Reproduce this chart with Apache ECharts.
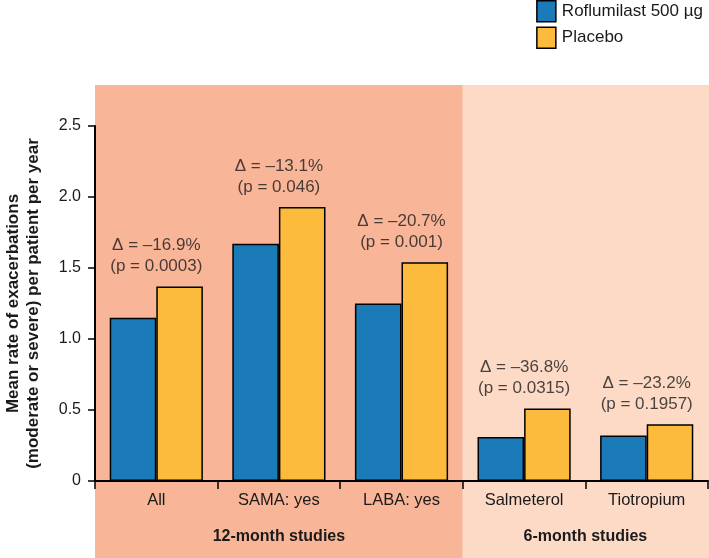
<!DOCTYPE html>
<html>
<head>
<meta charset="utf-8">
<script src="https://cdn.jsdelivr.net/npm/echarts@6/dist/echarts.min.js"></script>
<style>
html,body{margin:0;padding:0;background:#fff;}
#main{width:709px;height:558px;}
</style>
</head>
<body>
<div id="main"></div>
<script>
// ---- data ----
const categories = ['All', 'SAMA: yes', 'LABA: yes', 'Salmeterol', 'Tiotropium'];
const roflumilast = [1.15, 1.67, 1.25, 0.31, 0.32];
const placebo = [1.37, 1.93, 1.54, 0.51, 0.40];
const deltas = ['–16.9', '–13.1', '–20.7', '–36.8', '–23.2'];
const pValues = ['0.0003', '0.046', '0.001', '0.0315', '0.1957'];
const groupNames = ['12-month studies', '6-month studies'];
const groupStart = [0, 3];
const groupEnd = [2, 4];
const yTicks = [0, 0.5, 1.0, 1.5, 2.0, 2.5];

const FONT = '"Liberation Sans", Arial, Helvetica, sans-serif';
const TXT = '#1a1a1a';
const BLUE = '#1a7bb8';
const YELLOW = '#fdbb3d';
const shadeColors = ['#f8b598', '#fddac6'];

const chart = echarts.init(document.getElementById('main'), null, {renderer: 'canvas'});

const annot = categories.map((c, i) => ({
  value: [c, Math.max(roflumilast[i], placebo[i])],
  idx: i
}));

const option = {
  animation: false,
  textStyle: {fontFamily: FONT},
  grid: {left: 95, right: 1, top: 126, bottom: 77, containLabel: false, outerBoundsMode: 'none'},
  legend: {
    orient: 'vertical',
    right: 6,
    top: 0,
    padding: 0,
    itemWidth: 19,
    itemHeight: 21,
    itemGap: 4,
    icon: 'rect',
    textStyle: {fontFamily: FONT, fontSize: 17, color: TXT, padding: [0, 0, 0, 1]},
    data: [
      {name: 'Roflumilast 500 µg', itemStyle: {color: BLUE, borderColor: '#000', borderWidth: 1.5}},
      {name: 'Placebo', itemStyle: {color: YELLOW, borderColor: '#000', borderWidth: 1.5}}
    ]
  },
  xAxis: {
    type: 'category',
    data: categories,
    boundaryGap: true,
    axisLine: {lineStyle: {color: '#000', width: 2}},
    axisTick: {show: true, length: 8, lineStyle: {color: '#000', width: 1.5}},
    axisLabel: {fontFamily: FONT, fontSize: 16.5, color: TXT, margin: 11}
  },
  yAxis: {
    type: 'value',
    min: 0,
    max: 2.5,
    interval: 0.5,
    splitLine: {show: false},
    axisLine: {show: true, lineStyle: {color: '#000', width: 2}},
    axisTick: {show: true, length: 7, lineStyle: {color: '#000', width: 1.5}},
    axisLabel: {
      fontFamily: FONT, fontSize: 16, color: TXT, margin: 14,
      formatter: v => {
        const t = yTicks.find(k => Math.abs(k - v) < 1e-9);
        return t === 0 ? '0' : (t !== undefined ? t.toFixed(1) : '');
      }
    },
    name: 'Mean rate of exacerbations\n(moderate or severe) per patient per year',
    nameLocation: 'middle',
    nameRotate: 90,
    nameGap: 52,
    nameTextStyle: {fontFamily: FONT, fontSize: 17, fontWeight: 'bold', color: TXT, lineHeight: 20}
  },
  series: [
    {
      name: 'Roflumilast 500 µg',
      type: 'bar',
      data: roflumilast,
      barGap: '0%',
      barCategoryGap: '24%',
      itemStyle: {color: BLUE, borderColor: '#000', borderWidth: 1.5},
      z: 3
    },
    {
      name: 'Placebo',
      type: 'bar',
      data: placebo,
      itemStyle: {color: YELLOW, borderColor: '#000', borderWidth: 1.5},
      z: 3
    },
    {
      name: 'annot',
      type: 'scatter',
      data: annot,
      symbol: 'circle',
      symbolSize: 1,
      itemStyle: {color: 'rgba(0,0,0,0)'},
      silent: true,
      label: {
        show: true,
        position: 'top',
        distance: 9,
        fontFamily: FONT,
        fontSize: 17,
        lineHeight: 21,
        color: TXT,
        align: 'center',
        formatter: p => 'Δ = ' + deltas[p.data.idx] + '%\n(p = ' + pValues[p.data.idx] + ')'
      },
      labelLayout: {hideOverlap: false},
      z: 5
    }
  ]
};
chart.setOption(option);

// shaded study-group backgrounds and group labels, derived from the category axis
function drawGroups() {
  const c0 = chart.convertToPixel({xAxisIndex: 0}, 0);
  const c1 = chart.convertToPixel({xAxisIndex: 0}, 1);
  const band = c1 - c0;
  const W = chart.getWidth();
  const H = chart.getHeight();
  const els = [];
  groupNames.forEach((g, gi) => {
    const x0 = chart.convertToPixel({xAxisIndex: 0}, groupStart[gi]) - band / 2;
    let x1 = chart.convertToPixel({xAxisIndex: 0}, groupEnd[gi]) + band / 2;
    if (gi === groupNames.length - 1) x1 = W;
    els.push({
      type: 'rect', z: -100, silent: true,
      shape: {x: x0, y: 85, width: x1 - x0, height: H - 85},
      style: {fill: shadeColors[gi]}
    });
    const xr = chart.convertToPixel({xAxisIndex: 0}, groupEnd[gi]) + band / 2;
    els.push({
      type: 'text', z: 10, silent: true,
      x: (x0 + xr) / 2, y: 537,
      style: {
        text: g, fill: TXT, fontFamily: FONT, fontSize: 16, fontWeight: 'bold',
        textAlign: 'center', textVerticalAlign: 'middle'
      }
    });
  });
  chart.setOption({graphic: {elements: els}});
}
drawGroups();
</script>
</body>
</html>
